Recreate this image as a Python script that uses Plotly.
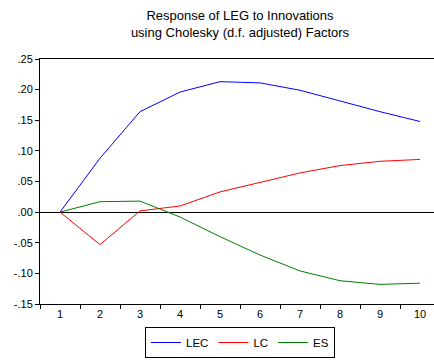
import plotly.graph_objects as go

periods = ["1", "2", "3", "4", "5", "6", "7", "8", "9", "10"]
lec = [0.0, 0.088, 0.164, 0.196, 0.213, 0.211, 0.199, 0.181, 0.164, 0.148]
lc = [0.0, -0.053, 0.002, 0.010, 0.033, 0.049, 0.064, 0.076, 0.083, 0.086]
es = [0.0, 0.017, 0.018, -0.008, -0.040, -0.070, -0.096, -0.112, -0.118, -0.116]

y_ticks = [-0.15, -0.10, -0.05, 0.00, 0.05, 0.10, 0.15, 0.20, 0.25]
y_labels = ["-.15", "-.10", "-.05", ".00", ".05", ".10", ".15", ".20", ".25"]

series = [("LEC", lec, "#0000FF"), ("LC", lc, "#FF0000"), ("ES", es, "#008000")]

fig = go.Figure()
for name, vals, color in series:
    fig.add_trace(go.Scatter(x=periods, y=vals, mode="lines", name=name,
                             line=dict(color=color, width=1)))

font = "Liberation Sans, Arial, sans-serif"
x_lo, x_hi = -0.5, 9.35
plot_left, plot_right = 40, 434
center_x = (240 - plot_left) / (plot_right - plot_left)

fig.update_layout(
    width=434, height=360,
    margin=dict(l=plot_left, r=434 - plot_right, t=59, b=56, autoexpand=False),
    paper_bgcolor="white", plot_bgcolor="white",
    font=dict(family=font, size=11, color="black"),
    title=dict(
        text="Response of LEG to Innovations<br>using Cholesky (d.f. adjusted) Factors",
        x=center_x, xref="paper", xanchor="center",
        y=1 - 20 / 360, yanchor="middle",
        font=dict(family=font, size=13, color="black"),
    ),
    showlegend=True,
    legend=dict(
        orientation="h", x=center_x, xanchor="center",
        yref="container", y=2 / 360, yanchor="bottom",
        bordercolor="black", borderwidth=1, bgcolor="white",
        font=dict(family=font, size=11.5, color="black"),
        itemwidth=30, tracegroupgap=0,
    ),
)

fig.update_xaxes(
    type="category", range=[x_lo, x_hi],
    tickson="boundaries", ticks="outside", ticklen=4, tickcolor="black",
    showline=True, linecolor="black", linewidth=1, mirror=True,
    showgrid=False, zeroline=False,
    tickfont=dict(family=font, size=11, color="black"),
)
fig.update_yaxes(
    range=[-0.15, 0.25], tickvals=y_ticks, ticktext=y_labels,
    ticks="outside", ticklen=4, tickcolor="black",
    showline=True, linecolor="black", linewidth=1,
    showgrid=False, zeroline=True, zerolinecolor="black", zerolinewidth=1,
    tickfont=dict(family=font, size=11, color="black"),
)

fig.write_html("out.html")
